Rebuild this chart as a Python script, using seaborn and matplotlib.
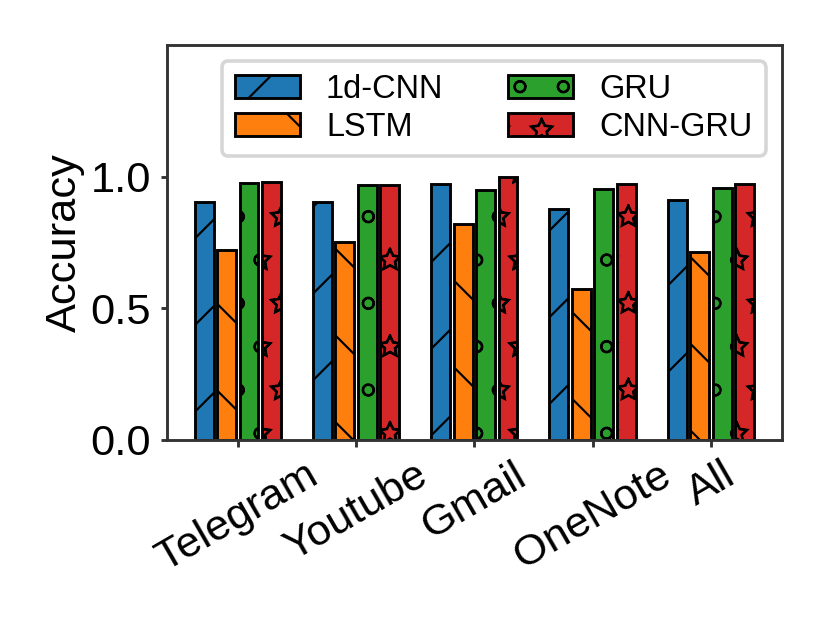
import numpy as np
import pandas as pd
import matplotlib
matplotlib.use('Agg')
import matplotlib.pyplot as plt
import matplotlib.hatch as mhatch
from matplotlib.path import Path
import seaborn as sns

apps = ['Telegram', 'Youtube', 'Gmail', 'OneNote', 'All']
models = ['1d-CNN', 'LSTM', 'GRU', 'CNN-GRU']
acc_cnn = [0.904, 0.902, 0.970, 0.875, 0.910]
acc_lstm = [0.720, 0.750, 0.821, 0.573, 0.715]
acc_gru = [0.975, 0.966, 0.947, 0.951, 0.958]
acc_cnngru = [0.978, 0.966, 1.000, 0.973, 0.973]
hatches = ['/', '\\', 'o', '*']


# outlined stars instead of the filled ones matplotlib draws for '*'
class OutlineStars(mhatch.Shapes):
    size = 0.26
    filled = False

    def __init__(self, hatch, density):
        self.num_rows = hatch.count('*') * density
        path = Path.unit_regular_star(5)
        self.shape_vertices = path.vertices
        self.shape_codes = np.full(len(self.shape_vertices), Path.LINETO,
                                   dtype=Path.code_type)
        self.shape_codes[0] = Path.MOVETO
        super().__init__(hatch, density)


mhatch._hatch_types = [OutlineStars if t is mhatch.Stars else t
                       for t in mhatch._hatch_types]
mhatch.SmallCircles.size = 0.13

rows = []
for m, vals in zip(models, [acc_cnn, acc_lstm, acc_gru, acc_cnngru]):
    for a, v in zip(apps, vals):
        rows.append({'App': a, 'Model': m, 'Accuracy': v})
df = pd.DataFrame(rows)

plt.rcParams['font.family'] = ['Liberation Sans', 'DejaVu Sans']
plt.rcParams['hatch.linewidth'] = 0.6

fig = plt.figure(figsize=(830 / 260, 623 / 260), dpi=260)
ax = fig.add_axes([0.201, 0.294, 0.741, 0.634])
sns.barplot(data=df, x='App', y='Accuracy', hue='Model', hue_order=models,
            order=apps, palette='tab10', saturation=1, width=0.76, gap=0.16,
            edgecolor='black', linewidth=0.8, legend=False, ax=ax)

for cont, h in zip(ax.containers, hatches):
    for p in cont:
        p.set_hatch(h)

ax.legend(ax.containers, models, ncol=2, loc='upper right', fontsize=9,
          labelspacing=0.2)
ax.set_ylim(0, 1.5)
ax.set_xlim(-0.6, 4.6)
ax.set_yticks([0.0, 0.5, 1.0])
ax.set_xlabel('')
ax.set_ylabel('Accuracy', fontsize=12, labelpad=1.5)
for s in ax.spines.values():
    s.set_color('0.2')
ax.tick_params(axis='both', length=1.8, color='0.2')
ax.tick_params(axis='y', labelsize=12, pad=2.5)
ax.tick_params(axis='x', labelsize=12, labelrotation=30, pad=2.5)

plt.savefig('out.png', dpi=260)
